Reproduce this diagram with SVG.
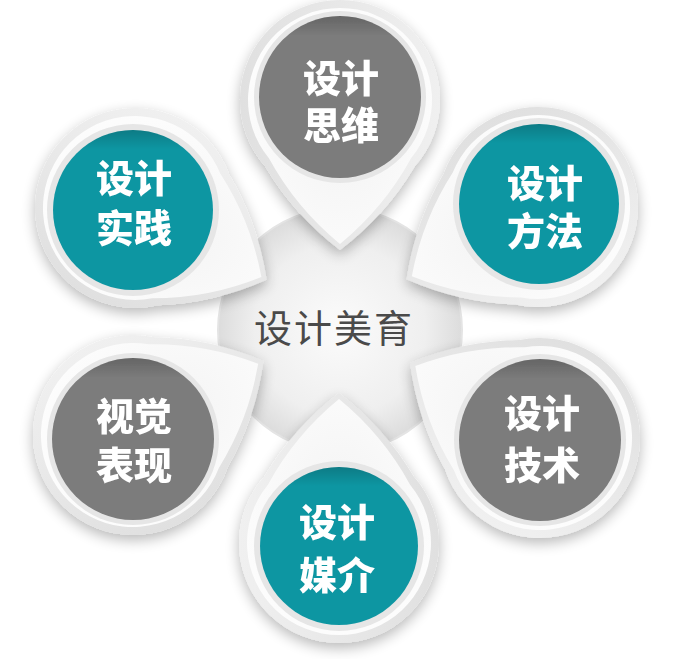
<svg xmlns="http://www.w3.org/2000/svg" xmlns:xlink="http://www.w3.org/1999/xlink" width="680" height="659" viewBox="0 0 680 659">
<style>
.lbl{font-family:"Liberation Sans","Noto Sans CJK SC",sans-serif;font-weight:900;font-size:38px;fill:#ffffff;text-anchor:middle}
.ctr{font-family:"Liberation Sans","Noto Sans CJK SC",sans-serif;font-weight:400;font-size:38px;fill:#4a4a4a;text-anchor:middle;letter-spacing:2px}
.rim{fill:url(#rimG)}
.face{fill:url(#faceG)}
.well{fill:#e6e6e6}
.teal{fill:#1096a2}
.grey{fill:#7b7b7b}
.gloss{fill:url(#inset)}
</style>
<defs>
<path id="petal" d="M150,0 Q115,46 66.67,74.54 A100,100 0 1 1 66.67,-74.54 Q115,-46 150,0 Z"/>
<path id="petalIn" d="M144,0 Q108,44 58.37,71.07 A92,92 0 1 1 58.37,-71.07 Q108,-44 144,0 Z"/>
<linearGradient id="rimG" x1="0" y1="0" x2="0" y2="1">
<stop offset="0" stop-color="#f0f0f0"/>
<stop offset="1" stop-color="#e0e0e0"/>
</linearGradient>
<radialGradient id="faceG" cx="0.55" cy="0.5" r="0.6">
<stop offset="0" stop-color="#f3f3f3"/>
<stop offset="1" stop-color="#fdfdfd"/>
</radialGradient>
<radialGradient id="disc" cx="0.5" cy="0.5" r="0.5">
<stop offset="0" stop-color="#fbfbfb"/>
<stop offset="0.7" stop-color="#efefef"/>
<stop offset="1" stop-color="#dcdcdc"/>
</radialGradient>
<linearGradient id="inset" x1="0" y1="0" x2="0" y2="1">
<stop offset="0" stop-color="#000" stop-opacity="0.18"/>
<stop offset="0.12" stop-color="#000" stop-opacity="0"/>
<stop offset="1" stop-color="#000" stop-opacity="0"/>
</linearGradient>
<filter id="sh" x="-30%" y="-30%" width="160%" height="160%">
<feGaussianBlur in="SourceAlpha" stdDeviation="7"/>
<feOffset dx="0" dy="5" result="b"/>
<feComponentTransfer><feFuncA type="linear" slope="0.28"/></feComponentTransfer>
<feMerge><feMergeNode/><feMergeNode in="SourceGraphic"/></feMerge>
</filter>
</defs>
<rect width="680" height="659" fill="#ffffff"/>
<g id="connectors"/>
<g id="center">
<circle cx="340" cy="330" r="122" fill="url(#disc)" stroke="#e4e4e4" stroke-width="2"/>
</g>
<g id="node-siwei" filter="url(#sh)">
<use xlink:href="#petal" class="rim" transform="translate(340,100) rotate(90)"/>
<use xlink:href="#petalIn" class="face" transform="translate(340,100) rotate(90)"/>
<circle cx="340" cy="97" r="86" class="well"/>
<circle cx="340" cy="97" r="81" class="grey"/>
<circle cx="340" cy="97" r="81" class="gloss"/>
<text class="lbl" x="341" y="92">设计</text>
<text class="lbl" x="341" y="139">思维</text>
</g>
<g id="node-shijian" filter="url(#sh)">
<use xlink:href="#petal" class="rim" transform="translate(135,208) rotate(28.6)"/>
<use xlink:href="#petalIn" class="face" transform="translate(135,208) rotate(28.6)"/>
<circle cx="133" cy="210" r="86" class="well"/>
<circle cx="133" cy="210" r="80" class="teal"/>
<circle cx="133" cy="210" r="80" class="gloss"/>
<text class="lbl" x="134" y="192">设计</text>
<text class="lbl" x="134" y="242">实践</text>
</g>
<g id="node-fangfa" filter="url(#sh)">
<use xlink:href="#petal" class="rim" transform="translate(538,207) rotate(151.2)"/>
<use xlink:href="#petalIn" class="face" transform="translate(538,207) rotate(151.2)"/>
<circle cx="539" cy="204" r="86" class="well"/>
<circle cx="539" cy="204" r="80" class="teal"/>
<circle cx="539" cy="204" r="80" class="gloss"/>
<text class="lbl" x="545" y="197">设计</text>
<text class="lbl" x="545" y="245">方法</text>
</g>
<g id="node-biaoxian" filter="url(#sh)">
<use xlink:href="#petal" class="rim" transform="translate(133,435) rotate(-29.6)"/>
<use xlink:href="#petalIn" class="face" transform="translate(133,435) rotate(-29.6)"/>
<circle cx="133" cy="439" r="86" class="well"/>
<circle cx="133" cy="439" r="81" class="grey"/>
<circle cx="133" cy="439" r="81" class="gloss"/>
<text class="lbl" x="134" y="430">视觉</text>
<text class="lbl" x="134" y="479">表现</text>
</g>
<g id="node-jishu" filter="url(#sh)">
<use xlink:href="#petal" class="rim" transform="translate(540,438) rotate(210)"/>
<use xlink:href="#petalIn" class="face" transform="translate(540,438) rotate(210)"/>
<circle cx="540" cy="440" r="86" class="well"/>
<circle cx="540" cy="440" r="81" class="grey"/>
<circle cx="540" cy="440" r="81" class="gloss"/>
<text class="lbl" x="542" y="427">设计</text>
<text class="lbl" x="542" y="479">技术</text>
</g>
<g id="node-meijie" filter="url(#sh)">
<use xlink:href="#petal" class="rim" transform="translate(339,543) rotate(-90)"/>
<use xlink:href="#petalIn" class="face" transform="translate(339,543) rotate(-90)"/>
<circle cx="339" cy="546" r="85" class="well"/>
<circle cx="339" cy="546" r="79" class="teal"/>
<circle cx="339" cy="546" r="79" class="gloss"/>
<text class="lbl" x="337" y="536">设计</text>
<text class="lbl" x="337" y="589">媒介</text>
</g>
<g id="center-label">
<text class="ctr" x="334" y="342">设计美育</text>
</g>
</svg>
